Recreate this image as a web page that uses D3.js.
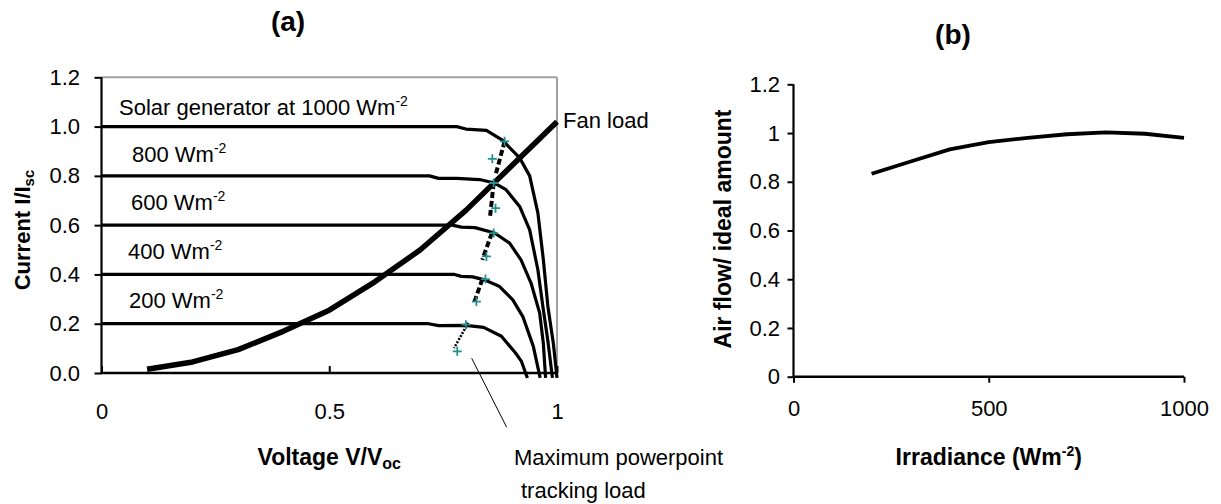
<!DOCTYPE html>
<html><head><meta charset="utf-8">
<script src="https://cdn.jsdelivr.net/npm/d3@7"></script>
<style>
body{margin:0;background:#fff}
text{font-family:"Liberation Sans",Arial,Helvetica,sans-serif;fill:#000}
</style>
</head><body>
<svg id="c" width="1221" height="504"></svg>
<script>
// ---------- Data: panel (a) ----------
const ivIrradiance = [1000, 800, 600, 400, 200];
const iv1000 = [[0,1.0],[0.70,1.0],[0.78,1.0],[0.80,0.99],[0.845,0.985],[0.88,0.945],[0.918,0.873],[0.94,0.80],[0.958,0.65],[0.97,0.46],[0.98,0.27],[0.992,0.12],[1.0,-0.02]];
const iv800  = [[0,0.8],[0.72,0.8],[0.74,0.79],[0.78,0.79],[0.83,0.785],[0.863,0.771],[0.888,0.744],[0.918,0.676],[0.94,0.581],[0.958,0.419],[0.969,0.27],[0.98,0.13],[0.99,-0.02]];
const iv600  = [[0,0.6],[0.77,0.6],[0.79,0.592],[0.82,0.59],[0.863,0.568],[0.896,0.527],[0.921,0.459],[0.943,0.365],[0.962,0.243],[0.97,0.12],[0.975,-0.02]];
const iv400  = [[0,0.4],[0.775,0.4],[0.79,0.392],[0.815,0.39],[0.841,0.378],[0.874,0.351],[0.903,0.297],[0.925,0.229],[0.948,0.108],[0.963,-0.02]];
const iv200  = [[0,0.2],[0.718,0.2],[0.74,0.192],[0.80,0.193],[0.839,0.185],[0.878,0.149],[0.909,0.081],[0.922,0.047],[0.935,-0.02]];
const fanLoad = [[0.1,0.015],[0.2,0.045],[0.3,0.095],[0.4,0.17],[0.5,0.255],[0.6,0.37],[0.7,0.5],[0.8,0.66],[0.9,0.84],[1.0,1.02]];
const mpptMarkers = [[0.885,0.94],[0.858,0.869],[0.861,0.771],[0.865,0.669],[0.861,0.568],[0.845,0.473],[0.843,0.381],[0.823,0.290],[0.80,0.196],[0.781,0.088]];
const mpptDash = [
  [[0.885,0.94],[0.866,0.81]],
  [[0.861,0.771],[0.853,0.635]],
  [[0.857,0.568],[0.836,0.459]],
  [[0.836,0.381],[0.819,0.29]],
  [[0.805,0.203],[0.774,0.101]]
];
const ivLabels = ["Solar generator at 1000 Wm", "800 Wm", "600 Wm", "400 Wm", "200 Wm"];
const aXTicks = [0, 0.5, 1];
const aYTicks = [0, 0.2, 0.4, 0.6, 0.8, 1.0, 1.2];

// ---------- Data: panel (b) ----------
const irradiance = [200, 300, 400, 500, 600, 700, 800, 900, 1000];
const airFlow    = [0.833, 0.883, 0.933, 0.963, 0.98, 0.995, 1.003, 0.997, 0.98];
const bXTicks = [0, 500, 1000];
const bYTicks = [0, 0.2, 0.4, 0.6, 0.8, 1, 1.2];

// ---------- Layout ----------
const svg = d3.select("#c");
const F = 22;
const xa = d3.scaleLinear([0,1],[101.5,557]);
const ya = d3.scaleLinear([0,1.2],[373,77.3]);
const xb = d3.scaleLinear([0,1000],[793.5,1184]);
const yb = d3.scaleLinear([0,1.2],[376.7,84.3]);

function styleAxis(g){
  g.selectAll("text").attr("font-size",F).attr("font-family",'"Liberation Sans",Arial,sans-serif').attr("fill","#000");
  g.selectAll("line").attr("stroke","#000").attr("stroke-width",2);
  g.select(".domain").remove();
}

// ===== Panel (a) =====
const A = svg.append("g");
A.append("line").attr("x1",xa(0)).attr("x2",xa(1)).attr("y1",ya(1.2)).attr("y2",ya(1.2)).attr("stroke","#a0a0a0").attr("stroke-width",2);
A.append("line").attr("x1",xa(1)).attr("x2",xa(1)).attr("y1",ya(1.2)).attr("y2",ya(0)).attr("stroke","#a0a0a0").attr("stroke-width",2);

A.append("g").attr("transform",`translate(${xa(0)},0)`)
  .call(d3.axisLeft(ya).tickValues(aYTicks).tickFormat(d3.format(".1f")).tickSizeInner(7).tickSizeOuter(0).tickPadding(14.5))
  .call(styleAxis);
A.append("g").attr("transform",`translate(0,${ya(0)})`)
  .call(d3.axisBottom(xa).tickValues(aXTicks).tickFormat(d => String(d)).tickSizeInner(-7).tickSizeOuter(0).tickPadding(30.4))
  .call(styleAxis);
A.append("line").attr("x1",xa(0)).attr("x2",xa(0)).attr("y1",ya(1.2)).attr("y2",ya(0)).attr("stroke","#000").attr("stroke-width",2.2);
A.append("line").attr("x1",xa(0)-1).attr("x2",xa(1)).attr("y1",ya(0)).attr("y2",ya(0)).attr("stroke","#000").attr("stroke-width",2.5);

const lineA = d3.line().x(d=>xa(d[0])).y(d=>ya(d[1]));
[iv1000, iv800, iv600, iv400, iv200].forEach(c=>{
  A.append("path").attr("d",lineA(c)).attr("fill","none").attr("stroke","#000").attr("stroke-width",3.2).attr("stroke-linejoin","round");
});
A.append("path").attr("d",lineA(fanLoad)).attr("fill","none").attr("stroke","#000").attr("stroke-width",5.5).attr("stroke-linejoin","round");

mpptDash.forEach((s,i)=>{
  A.append("path").attr("d",lineA(s)).attr("fill","none").attr("stroke","#000")
    .attr("stroke-width", i===4 ? 2.5 : 4).attr("stroke-dasharray", i===4 ? "2,1.5" : "6,3");
});
mpptMarkers.forEach(p=>{
  const x = xa(p[0]), y = ya(p[1]), r = 4.5;
  A.append("path").attr("d",`M${x-r},${y}H${x+r}M${x},${y-r}V${y+r}`).attr("stroke","#23908f").attr("stroke-width",1.8).attr("fill","none");
});

const labelPos = [[119,115],[132,161.5],[131,210],[128,258.5],[129,308]];
ivLabels.forEach((t,i)=>{
  const tx = A.append("text").attr("x",labelPos[i][0]).attr("y",labelPos[i][1]).attr("font-size",F);
  tx.append("tspan").text(t);
  tx.append("tspan").attr("font-size",14).attr("dy",-9).text("-2");
});
A.append("text").attr("x",563).attr("y",128).attr("font-size",F).text("Fan load");
A.append("line").attr("x1",471.7).attr("y1",358.3).attr("x2",506.7).attr("y2",427.3).attr("stroke","#000").attr("stroke-width",1);
A.append("text").attr("x",514).attr("y",465).attr("font-size",F).text("Maximum powerpoint");
A.append("text").attr("x",521).attr("y",498).attr("font-size",F).text("tracking load");

A.append("text").attr("x",288).attr("y",31).attr("font-size",28).attr("font-weight","bold").attr("text-anchor","middle").text("(a)");
const ta = A.append("text").attr("transform","translate(30,230) rotate(-90)").attr("text-anchor","middle").attr("font-size",F).attr("font-weight","bold");
ta.append("tspan").text("Current I/I");
ta.append("tspan").attr("font-size",15).attr("dy",4).text("sc");
const xta = A.append("text").attr("x",xa(0.5)).attr("y",465).attr("text-anchor","middle").attr("font-size",23).attr("font-weight","bold");
xta.append("tspan").text("Voltage V/V");
xta.append("tspan").attr("font-size",16).attr("dy",4).text("oc");

// ===== Panel (b) =====
const B = svg.append("g");
B.append("g").attr("transform",`translate(${xb(0)},0)`)
  .call(d3.axisLeft(yb).tickValues(bYTicks).tickFormat(d=>String(d)).tickSizeInner(6).tickSizeOuter(0).tickPadding(7.5))
  .call(styleAxis);
B.append("g").attr("transform",`translate(0,${yb(0)})`)
  .call(d3.axisBottom(xb).tickValues(bXTicks).tickFormat(d=>String(d)).tickSizeInner(6).tickSizeOuter(0).tickPadding(17.7))
  .call(styleAxis);
B.append("line").attr("x1",xb(0)).attr("x2",xb(0)).attr("y1",yb(1.2)).attr("y2",yb(0)).attr("stroke","#000").attr("stroke-width",2.2);
B.append("line").attr("x1",xb(0)).attr("x2",xb(1000)).attr("y1",yb(0)).attr("y2",yb(0)).attr("stroke","#000").attr("stroke-width",2.5);

const lineB = d3.line().x((d,i)=>xb(irradiance[i])).y(d=>yb(d));
B.append("path").attr("d",lineB(airFlow)).attr("fill","none").attr("stroke","#000").attr("stroke-width",3.8).attr("stroke-linejoin","round");

B.append("text").attr("x",953).attr("y",44).attr("font-size",28).attr("font-weight","bold").attr("text-anchor","middle").text("(b)");
B.append("text").attr("transform","translate(731,229) rotate(-90)").attr("text-anchor","middle").attr("font-size",23).attr("font-weight","bold").text("Air flow/ ideal amount");
const xtb = B.append("text").attr("x",xb(500)).attr("y",465).attr("text-anchor","middle").attr("font-size",23).attr("font-weight","bold");
xtb.append("tspan").text("Irradiance (Wm");
xtb.append("tspan").attr("font-size",14).attr("dy",-9).text("-2");
xtb.append("tspan").attr("dy",9).text(")");
</script>
</body></html>
